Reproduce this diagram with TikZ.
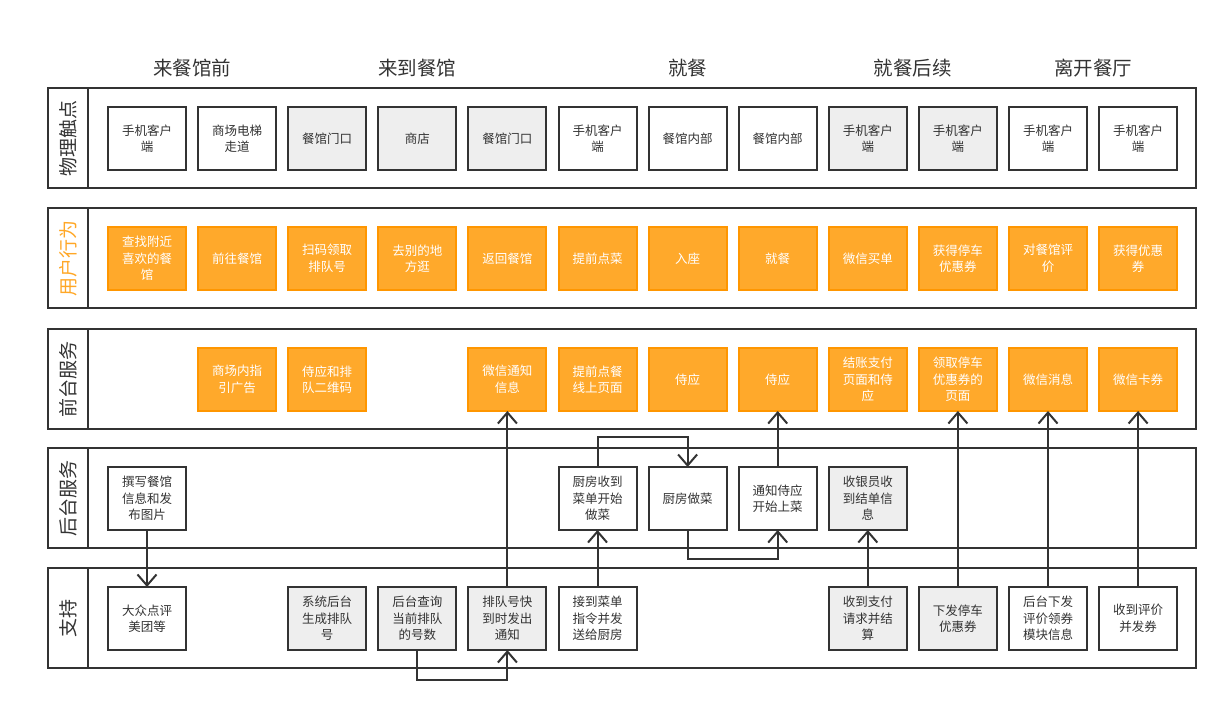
\documentclass[tikz,border=0pt]{standalone}
\usepackage{fontspec}
\usepackage{xcolor}
\usepackage{tikz}
\usetikzlibrary{positioning}
\usetikzlibrary{calc}
\usetikzlibrary{arrows.meta}
\newfontfamily\cjk{Noto Sans CJK SC}
\definecolor{ink}{HTML}{333333}
\definecolor{paper}{HTML}{EEEEEE}
\definecolor{amber}{HTML}{FFA92B}
\definecolor{amberline}{HTML}{FF9600}
\definecolor{amberlabel}{HTML}{FFA726}
\def\BoxW{78pt}
\def\BoxH{63pt}
\def\ColGap{12.1pt}
\def\GapA{57pt}
\def\GapB{178pt}
\def\GapC{297pt}
\def\GapD{417pt}

\tikzset{
	card/.style={draw=ink, line width=2pt, minimum width=\BoxW, minimum height=\BoxH, outer sep=0pt, inner sep=2pt, align=center, text=ink, font=\cjk\fontsize{12.5}{16.5}\selectfont},
	whitebox/.style={card, fill=white},
	greybox/.style={card, fill=paper},
	orangebox/.style={card, draw=amberline, fill=amber, text=white},
	lane/.style={draw=ink, line width=2.5pt, minimum width=1148pt, minimum height=100pt, outer sep=0pt},
	lanehead/.style={draw=ink, line width=2.5pt, rotate=90, minimum width=100pt, minimum height=40pt, inner sep=0pt, text=ink, font=\cjk\fontsize{19}{19}\selectfont},
	phase/.style={text=ink, font=\cjk\fontsize{19.5}{20}\selectfont},
	flow/.style={draw=ink, line width=2pt, -{Straight Barb[length=11pt,width=19pt]}},
}

\begin{document}
\begin{tikzpicture}[x=1pt,y=-1pt]
	\useasboundingbox (0,0) rectangle (1228,712);
	% lanes
	\node[lane] (lane1) at (622,138) {};
	\node[lane] (lane2) at (622,258) {};
	\node[lane] (lane3) at (622,379) {};
	\node[lane] (lane4) at (622,498) {};
	\node[lane] (lane5) at (622,618) {};
	\node[lanehead] (h1) at (68,138) {物理触点};
	\node[lanehead, text=amberlabel] (h2) at (68,258) {用户行为};
	\node[lanehead] (h3) at (68,379) {前台服务};
	\node[lanehead] (h4) at (68,498) {后台服务};
	\node[lanehead] (h5) at (68,618) {支持};
	% 
	\node[whitebox] (p1) at (147,138.5) {手机客户\\端};
	\node[whitebox, right=\ColGap of p1] (p2) {商场电梯\\走道};
	\node[greybox, right=\ColGap of p2] (p3) {餐馆门口};
	\node[greybox, right=\ColGap of p3] (p4) {商店};
	\node[greybox, right=\ColGap of p4] (p5) {餐馆门口};
	\node[whitebox, right=\ColGap of p5] (p6) {手机客户\\端};
	\node[whitebox, right=\ColGap of p6] (p7) {餐馆内部};
	\node[whitebox, right=\ColGap of p7] (p8) {餐馆内部};
	\node[greybox, right=\ColGap of p8] (p9) {手机客户\\端};
	\node[greybox, right=\ColGap of p9] (p10) {手机客户\\端};
	\node[whitebox, right=\ColGap of p10] (p11) {手机客户\\端};
	\node[whitebox, right=\ColGap of p11] (p12) {手机客户\\端};
	% 
	\node[orangebox, below=\GapA of p1] (u1) {查找附近\\喜欢的餐\\馆};
	\node[orangebox, below=\GapA of p2] (u2) {前往餐馆};
	\node[orangebox, below=\GapA of p3] (u3) {扫码领取\\排队号};
	\node[orangebox, below=\GapA of p4] (u4) {去别的地\\方逛};
	\node[orangebox, below=\GapA of p5] (u5) {返回餐馆};
	\node[orangebox, below=\GapA of p6] (u6) {提前点菜};
	\node[orangebox, below=\GapA of p7] (u7) {入座};
	\node[orangebox, below=\GapA of p8] (u8) {就餐};
	\node[orangebox, below=\GapA of p9] (u9) {微信买单};
	\node[orangebox, below=\GapA of p10] (u10) {获得停车\\优惠券};
	\node[orangebox, below=\GapA of p11] (u11) {对餐馆评\\价};
	\node[orangebox, below=\GapA of p12] (u12) {获得优惠\\券};
	% 
	\node[orangebox, below=\GapB of p2] (f2) {商场内指\\引广告};
	\node[orangebox, below=\GapB of p3] (f3) {侍应和排\\队二维码};
	\node[orangebox, below=\GapB of p5] (f5) {微信通知\\信息};
	\node[orangebox, below=\GapB of p6] (f6) {提前点餐\\线上页面};
	\node[orangebox, below=\GapB of p7] (f7) {侍应};
	\node[orangebox, below=\GapB of p8] (f8) {侍应};
	\node[orangebox, below=\GapB of p9] (f9) {结账支付\\页面和侍\\应};
	\node[orangebox, below=\GapB of p10] (f10) {领取停车\\优惠券的\\页面};
	\node[orangebox, below=\GapB of p11] (f11) {微信消息};
	\node[orangebox, below=\GapB of p12] (f12) {微信卡券};
	% 
	\node[whitebox, below=\GapC of p1] (b1) {撰写餐馆\\信息和发\\布图片};
	\node[whitebox, below=\GapC of p6] (b6) {厨房收到\\菜单开始\\做菜};
	\node[whitebox, below=\GapC of p7] (b7) {厨房做菜};
	\node[whitebox, below=\GapC of p8] (b8) {通知侍应\\开始上菜};
	\node[greybox, below=\GapC of p9] (b9) {收银员收\\到结单信\\息};
	% 
	\node[whitebox, below=\GapD of p1] (s1) {大众点评\\美团等};
	\node[greybox, below=\GapD of p3] (s3) {系统后台\\生成排队\\号};
	\node[greybox, below=\GapD of p4] (s4) {后台查询\\当前排队\\的号数};
	\node[greybox, below=\GapD of p5] (s5) {排队号快\\到时发出\\通知};
	\node[whitebox, below=\GapD of p6] (s6) {接到菜单\\指令并发\\送给厨房};
	\node[greybox, below=\GapD of p9] (s9) {收到支付\\请求并结\\算};
	\node[greybox, below=\GapD of p10] (s10) {下发停车\\优惠券};
	\node[whitebox, below=\GapD of p11] (s11) {后台下发\\评价领券\\模块信息};
	\node[whitebox, below=\GapD of p12] (s12) {收到评价\\并发券};
	% phases
	\node[phase] (t1) at ($(p1)!0.5!(p2)+(0,-70)$) {来餐馆前};
	\node[phase] (t2) at ($(p4)+(0,-70)$) {来到餐馆};
	\node[phase] (t3) at ($(p7)+(0,-70)$) {就餐};
	\node[phase] (t4) at ($(p9)!0.5!(p10)+(0,-70)$) {就餐后续};
	\node[phase] (t5) at ($(p11)!0.5!(p12)+(0,-70)$) {离开餐厅};
	% 
	\draw[flow] (b1) -- (s1);
	\draw[flow] (s4.south) -- ++(0,30) -| (s5.south);
	\draw[flow] (s5) -- (f5);
	\draw[flow] (s6) -- (b6);
	\draw[flow] (b6.north) -- ++(0,-30) -| (b7.north);
	\draw[flow] (b7.south) -- ++(0,29) -| (b8.south);
	\draw[flow] (b8) -- (f8);
	\draw[flow] (s9) -- (b9);
	\draw[flow] (s10) -- (f10);
	\draw[flow] (s11) -- (f11);
	\draw[flow] (s12) -- (f12);
\end{tikzpicture}
\end{document}
